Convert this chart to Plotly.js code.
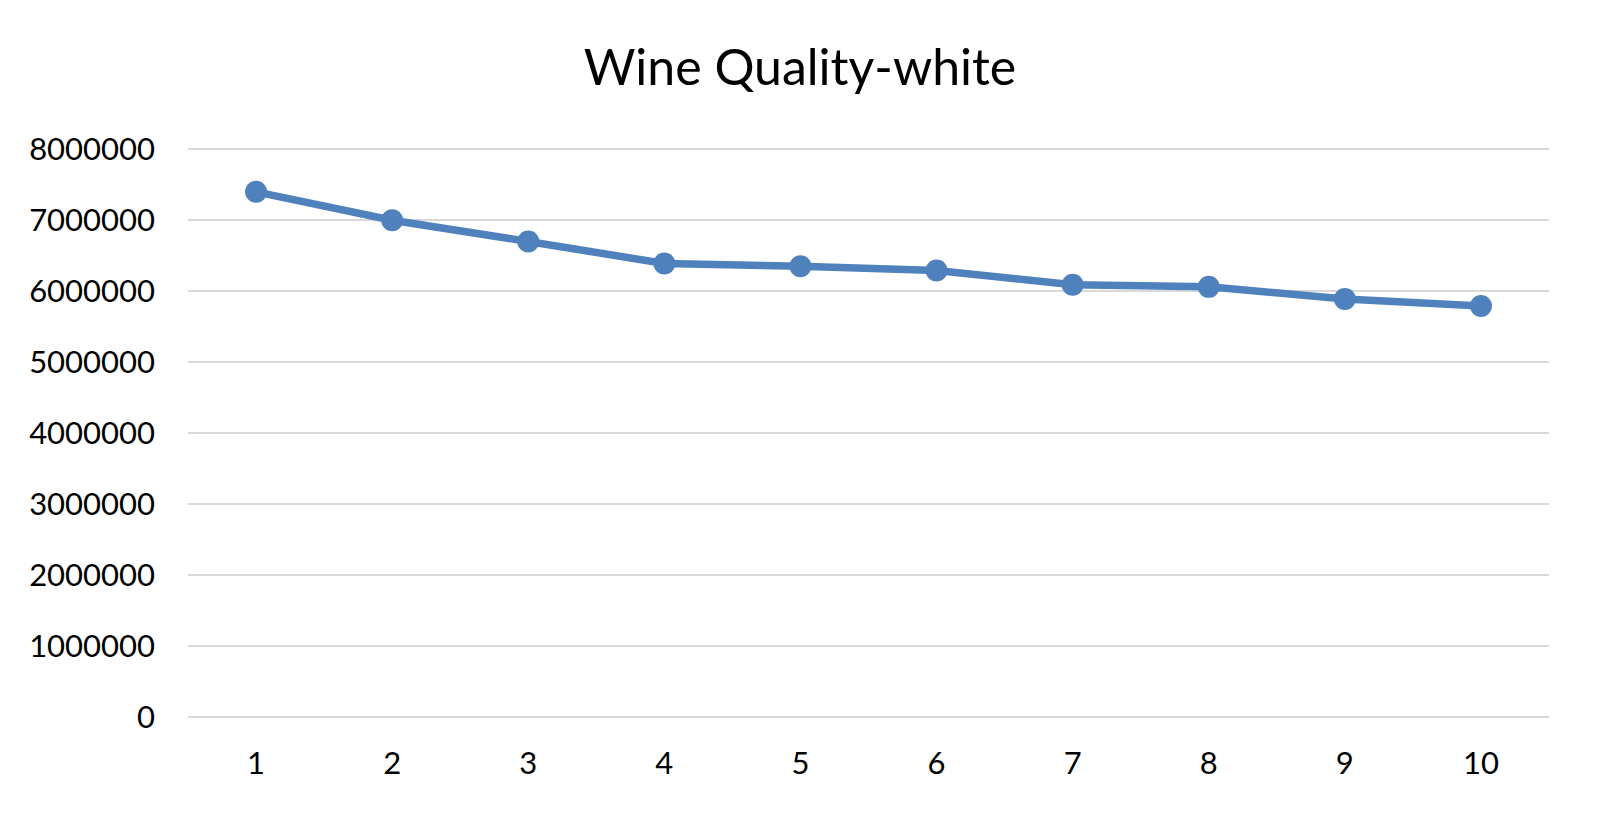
<!DOCTYPE html>
<html>
<head>
<meta charset="utf-8">
<script src="https://cdn.plot.ly/plotly-3.0.1.min.js"></script>
<style>html,body{margin:0;padding:0;background:#fff;}#chart{width:1600px;height:817px;}</style>
</head>
<body>
<div id="chart"></div>
<script>
const categories = [1, 2, 3, 4, 5, 6, 7, 8, 9, 10];
const values = [7400000, 7000000, 6700000, 6390000, 6350000, 6290000, 6090000, 6060000, 5890000, 5790000];
const yTicks = [0, 1000000, 2000000, 3000000, 4000000, 5000000, 6000000, 7000000, 8000000];
const yTickLabels = ['0', '1000000', '2000000', '3000000', '4000000', '5000000', '6000000', '7000000', '8000000'];

const trace = {
  x: categories,
  y: values,
  type: 'scatter',
  mode: 'lines+markers',
  line: {color: '#4F81BD', width: 7.5},
  marker: {color: '#4F81BD', size: 22},
  hoverinfo: 'x+y'
};

const layout = {
  width: 1600,
  height: 817,
  paper_bgcolor: '#fff',
  plot_bgcolor: '#fff',
  margin: {l: 188, r: 51, t: 145, b: 96},
  showlegend: false,
  font: {family: 'Lato, "Open Sans", sans-serif', color: '#000'},
  title: {text: 'Wine Quality-white', x: 0.5, xanchor: 'center', y: 0.917, yanchor: 'middle',
          font: {size: 50, color: '#000', family: 'Lato, "Open Sans", sans-serif'}},
  xaxis: {
    type: 'linear',
    range: [0.5, 10.5],
    tickvals: categories,
    ticktext: categories.map(String),
    showgrid: false,
    zeroline: false,
    showline: false,
    ticks: '',
    ticklabelstandoff: 21,
    tickfont: {size: 31, color: '#000'}
  },
  yaxis: {
    range: [-60000, 8060000],
    tickvals: yTicks,
    ticktext: yTickLabels,
    showgrid: true,
    gridcolor: '#D9D9D9',
    gridwidth: 2,
    zeroline: false,
    showline: false,
    ticks: '',
    ticklabelstandoff: 32,
    tickfont: {size: 31, color: '#000'}
  }
};

Plotly.newPlot('chart', [trace], layout, {displayModeBar: false, staticPlot: true});
</script>
</body>
</html>
